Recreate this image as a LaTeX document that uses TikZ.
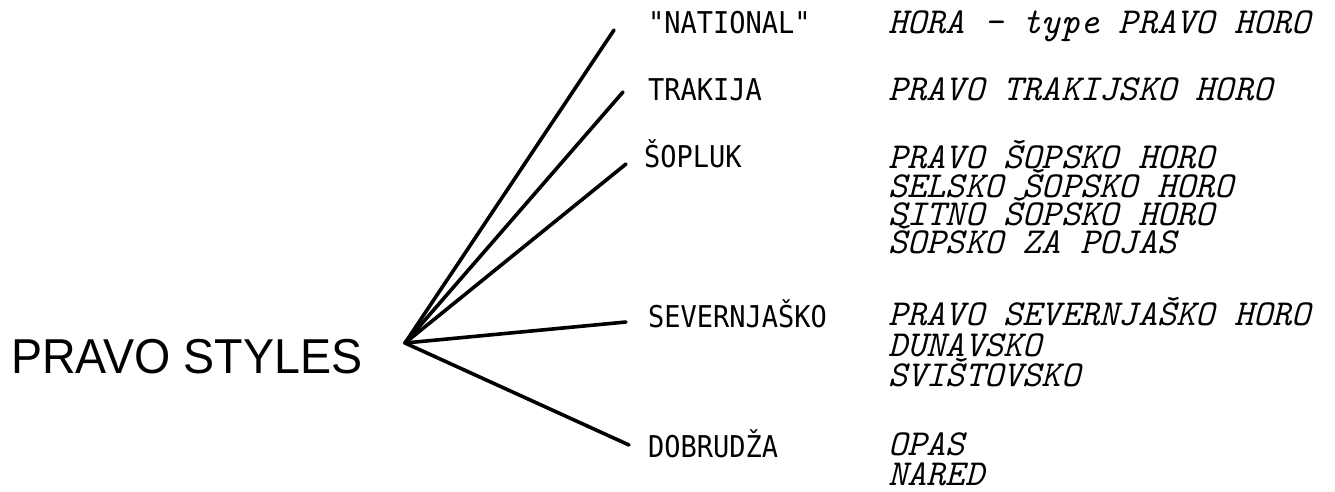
\documentclass[tikz,border=0pt]{standalone}
\usepackage{fontspec}
\newfontfamily\titlefont[FakeStretch=0.95]{Liberation Sans}
\newfontfamily\catfont[FakeStretch=0.9]{DejaVu Sans Mono}
\begin{document}
\begin{tikzpicture}[x=1pt,y=-1pt,
  titlelabel/.style={font=\titlefont\fontsize{49}{49}\selectfont, anchor=base west, inner sep=0pt},
  catlabel/.style={font=\catfont\fontsize{30}{30}\selectfont, anchor=base west, inner sep=0pt},
  danceitem/.style={font=\ttfamily\itshape\fontsize{36.6}{36.6}\selectfont, anchor=base west, inner sep=0pt},
  branchline/.style={line width=3.6pt, line cap=round}]
\useasboundingbox[fill=white] (0,0) rectangle (1335,491);

% title and hub
\node[titlelabel] (title) at (11,373) {PRAVO STYLES};
\coordinate (hub) at (405,343);

% branch ends
\coordinate (e1) at (614,30);
\coordinate (e2) at (623,92);
\coordinate (e3) at (626,164);
\coordinate (e4) at (626,322);
\coordinate (e5) at (629,445);

\draw[branchline] (hub) -- (e1);
\draw[branchline] (hub) -- (e2);
\draw[branchline] (hub) -- (e3);
\draw[branchline] (hub) -- (e4);
\draw[branchline] (hub) -- (e5);

% categories
\node[catlabel] (c1) at (648,33) {"NATIONAL"};
\node[catlabel] (c2) at (648,100) {TRAKIJA};
\node[catlabel] (c3) at (644,167) {ŠOPLUK};
\node[catlabel] (c4) at (648,327) {SEVERNJAŠKO};
\node[catlabel] (c5) at (648,457) {DOBRUDŽA};

% dances
\node[danceitem] (d1) at (888,33) {HORA - type PRAVO HORO};
\node[danceitem] (d2) at (888,100) {PRAVO TRAKIJSKO HORO};
\node[danceitem] (d3) at (888,168) {PRAVO ŠOPSKO HORO};
\node[danceitem] (d4) at (888,197) {SELSKO ŠOPSKO HORO};
\node[danceitem] (d5) at (888,225) {SITNO ŠOPSKO HORO};
\node[danceitem] (d6) at (888,253) {ŠOPSKO ZA POJAS};
\node[danceitem] (d7) at (888,325) {PRAVO SEVERNJAŠKO HORO};
\node[danceitem] (d8) at (888,356) {DUNAVSKO};
\node[danceitem] (d9) at (888,386) {SVIŠTOVSKO};
\node[danceitem] (d10) at (888,455) {OPAS};
\node[danceitem] (d11) at (888,485) {NARED};
\end{tikzpicture}
\end{document}
